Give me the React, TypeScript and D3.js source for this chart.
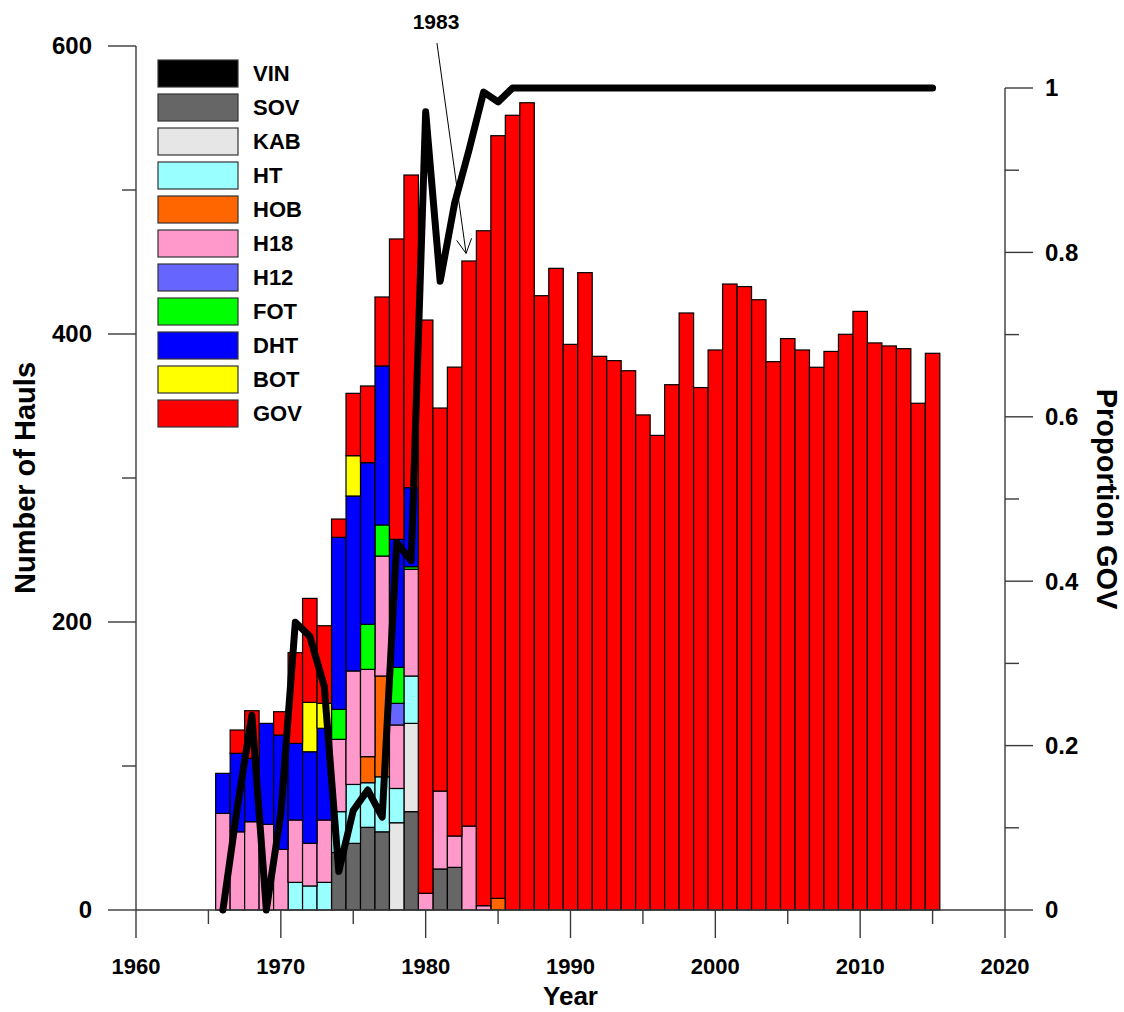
import React from "react";
import * as d3 from "d3";

// Survey years (one stacked bar per year)
const years = [
  1966, 1967, 1968, 1969, 1970, 1971, 1972, 1973, 1974, 1975,
  1976, 1977, 1978, 1979, 1980, 1981, 1982, 1983, 1984, 1985,
  1986, 1987, 1988, 1989, 1990, 1991, 1992, 1993, 1994, 1995,
  1996, 1997, 1998, 1999, 2000, 2001, 2002, 2003, 2004, 2005,
  2006, 2007, 2008, 2009, 2010, 2011, 2012, 2013, 2014, 2015,
];

// Number of hauls per gear type and year
const SOV = [
  0, 0, 0, 0, 0, 0, 0, 0, 40, 46.3,
  57.4, 54.3, 0, 68.3, 0, 28.5, 29.6, 0, 0, 0,
  0, 0, 0, 0, 0, 0, 0, 0, 0, 0,
  0, 0, 0, 0, 0, 0, 0, 0, 0, 0,
  0, 0, 0, 0, 0, 0, 0, 0, 0, 0,
];
const KAB = [
  0, 0, 0, 0, 0, 0, 0, 0, 0, 0,
  0, 0, 60.6, 61.3, 0, 0, 0, 0, 0, 0,
  0, 0, 0, 0, 0, 0, 0, 0, 0, 0,
  0, 0, 0, 0, 0, 0, 0, 0, 0, 0,
  0, 0, 0, 0, 0, 0, 0, 0, 0, 0,
];
const HT = [
  0, 0, 0, 0, 0, 19.2, 16.7, 19.2, 28.3, 40.9,
  31, 38.2, 23.8, 32.9, 0, 0, 0, 0, 0, 0,
  0, 0, 0, 0, 0, 0, 0, 0, 0, 0,
  0, 0, 0, 0, 0, 0, 0, 0, 0, 0,
  0, 0, 0, 0, 0, 0, 0, 0, 0, 0,
];
const HOB = [
  0, 0, 0, 0, 0, 0, 0, 0, 0, 0,
  18.1, 70, 0, 0, 0, 0, 0, 0, 0, 8.1,
  0, 0, 0, 0, 0, 0, 0, 0, 0, 0,
  0, 0, 0, 0, 0, 0, 0, 0, 0, 0,
  0, 0, 0, 0, 0, 0, 0, 0, 0, 0,
];
const H18 = [
  67.1, 54.3, 61.3, 59.5, 42.1, 43.3, 29.6, 43.3, 50.2, 78.8,
  60.6, 83.3, 44.1, 74.1, 11.6, 54.1, 21.8, 58.3, 3, 0,
  0, 0, 0, 0, 0, 0, 0, 0, 0, 0,
  0, 0, 0, 0, 0, 0, 0, 0, 0, 0,
  0, 0, 0, 0, 0, 0, 0, 0, 0, 0,
];
const H12 = [
  0, 0, 0, 0, 0, 0, 0, 0, 0, 0,
  0, 0, 15, 0, 0, 0, 0, 0, 0, 0,
  0, 0, 0, 0, 0, 0, 0, 0, 0, 0,
  0, 0, 0, 0, 0, 0, 0, 0, 0, 0,
  0, 0, 0, 0, 0, 0, 0, 0, 0, 0,
];
const FOT = [
  0, 0, 0, 0, 0, 0, 0, 0, 20.8, 0,
  31.3, 21.6, 25, 1.8, 0, 0, 0, 0, 0, 0,
  0, 0, 0, 0, 0, 0, 0, 0, 0, 0,
  0, 0, 0, 0, 0, 0, 0, 0, 0, 0,
  0, 0, 0, 0, 0, 0, 0, 0, 0, 0,
];
const DHT = [
  27.8, 54.5, 44, 70.1, 79.4, 53.2, 63.6, 63.7, 119.5, 121.5,
  112.2, 110.4, 88.9, 54.9, 0, 0, 0, 0, 0, 0,
  0, 0, 0, 0, 0, 0, 0, 0, 0, 0,
  0, 0, 0, 0, 0, 0, 0, 0, 0, 0,
  0, 0, 0, 0, 0, 0, 0, 0, 0, 0,
];
const BOT = [
  0, 0, 0, 0, 0, 0, 34.3, 17.3, 0, 28,
  0, 0, 0, 0, 0, 0, 0, 0, 0, 0,
  0, 0, 0, 0, 0, 0, 0, 0, 0, 0,
  0, 0, 0, 0, 0, 0, 0, 0, 0, 0,
  0, 0, 0, 0, 0, 0, 0, 0, 0, 0,
];
const GOV = [
  0, 16.2, 33.1, 0, 16.2, 63, 72.2, 53.9, 12.7, 43.3,
  53.3, 47.9, 208.6, 217.1, 398.1, 266, 325.6, 392.4, 468.7, 529.6,
  551.9, 560.6, 426.6, 445.6, 392.8, 442.6, 384.5, 381.5, 374.5, 343.8,
  329.6, 364.8, 414.6, 362.8, 388.9, 434.7, 432.9, 423.8, 380.8, 396.8,
  388.9, 376.9, 387.9, 399.8, 415.7, 393.8, 391.7, 389.8, 351.9, 386.6,
];

// Proportion of hauls made with GOV (right axis)
const propGOV = [
  0, 0.125, 0.237, 0, 0.117, 0.35, 0.333, 0.272, 0.047, 0.121,
  0.146, 0.113, 0.447, 0.425, 0.971, 0.765, 0.86, 0.925, 0.995, 0.983,
  1, 1, 1, 1, 1, 1, 1, 1, 1, 1,
  1, 1, 1, 1, 1, 1, 1, 1, 1, 1,
  1, 1, 1, 1, 1, 1, 1, 1, 1, 1,
];

const gearKeys = ["SOV", "KAB", "HT", "HOB", "H18", "H12", "FOT", "DHT", "BOT", "GOV"];
const gearSeries = [SOV, KAB, HT, HOB, H18, H12, FOT, DHT, BOT, GOV];
const gearColors = ["#666666", "#e6e6e6", "#99ffff", "#ff6600", "#ff99cc", "#6666ff", "#00ff00", "#0000ff", "#ffff00", "#ff0000"];

const legendLabels = ["VIN", "SOV", "KAB", "HT", "HOB", "H18", "H12", "FOT", "DHT", "BOT", "GOV"];
const legendColors = ["#000000", ...gearColors];

const xMajorTicks = [1960, 1970, 1980, 1990, 2000, 2010, 2020];
const xMinorTicks = [1965, 1975, 1985, 1995, 2005, 2015];
const yLeftMajor = [0, 200, 400, 600];
const yLeftMinor = [100, 300, 500];
const yRightMajor = [0, 0.2, 0.4, 0.6, 0.8, 1];
const yRightMinor = [0.1, 0.3, 0.5, 0.7, 0.9];

// Annotation: label plus arrow, in data coordinates (year, hauls)
const noteText = "1983";
const noteFrom = [1980.78, 602];
const noteTo = [1982.79, 456];

const FONT = "'Liberation Sans', Arial, Helvetica, sans-serif";

export default function App() {
  const W = 1124;
  const H = 1012;
  const x = d3.scaleLinear().domain([1960, 2020]).range([136, 1005]);
  const yL = d3.scaleLinear().domain([0, 600]).range([910, 46]);
  const yR = d3.scaleLinear().domain([0, 1]).range([910, 88]);

  const rows = years.map((yr, i) => {
    const r: any = { year: yr };
    gearKeys.forEach((k, j) => (r[k] = gearSeries[j][i]));
    return r;
  });
  const stacked = d3.stack().keys(gearKeys)(rows);

  const line = d3
    .line<number>()
    .x((_, i) => x(years[i]))
    .y((d) => yR(d));

  const axisColor = "#3a3a3a";
  const axisX0 = x(1960);
  const axisX1 = x(2020);
  const base = yL(0);

  // arrow geometry
  const ax0 = x(noteFrom[0]);
  const ay0 = yL(noteFrom[1]);
  const ax1 = x(noteTo[0]);
  const ay1 = yL(noteTo[1]);
  const ang = Math.atan2(ay1 - ay0, ax1 - ax0);
  const headLen = 16;
  const headAng = (28 * Math.PI) / 180;
  const h1 = [ax1 - headLen * Math.cos(ang - headAng), ay1 - headLen * Math.sin(ang - headAng)];
  const h2 = [ax1 - headLen * Math.cos(ang + headAng), ay1 - headLen * Math.sin(ang + headAng)];

  return (
    <div style={{ position: "absolute", left: 0, top: 0 }}>
      <svg width={W} height={H} style={{ display: "block", background: "#fff" }} fontFamily={FONT}>
        {/* stacked bars */}
        <g>
          {stacked.map((s, si) =>
            s.map((d, i) => {
              const v = d[1] - d[0];
              if (!(v > 0)) return null;
              const yr = years[i];
              const x0 = x(yr - 0.5);
              const x1 = x(yr + 0.5);
              return (
                <rect
                  key={`${si}-${i}`}
                  x={x0}
                  y={yL(d[1])}
                  width={x1 - x0}
                  height={yL(d[0]) - yL(d[1])}
                  fill={gearColors[si]}
                  stroke="#000"
                  strokeWidth={1.2}
                />
              );
            })
          )}
        </g>

        {/* bottom axis */}
        <g stroke={axisColor} strokeWidth={1.4}>
          <line x1={axisX0} x2={axisX1} y1={base} y2={base} />
          {xMajorTicks.map((t) => (
            <line key={t} x1={x(t)} x2={x(t)} y1={base} y2={base + 28} />
          ))}
          {xMinorTicks.map((t) => (
            <line key={t} x1={x(t)} x2={x(t)} y1={base} y2={base + 14} />
          ))}
        </g>
        {xMajorTicks.map((t) => (
          <text key={t} x={x(t)} y={966} dy="0.35em" textAnchor="middle" fontSize={22} fontWeight="bold">
            {t}
          </text>
        ))}
        <text x={(axisX0 + axisX1) / 2} y={996} dy="0.35em" textAnchor="middle" fontSize={26} fontWeight="bold">
          Year
        </text>

        {/* left axis */}
        <g stroke={axisColor} strokeWidth={1.4}>
          <line x1={axisX0} x2={axisX0} y1={yL(0)} y2={yL(600)} />
          {yLeftMajor.map((t) => (
            <line key={t} x1={axisX0 - 28} x2={axisX0} y1={yL(t)} y2={yL(t)} />
          ))}
          {yLeftMinor.map((t) => (
            <line key={t} x1={axisX0 - 14} x2={axisX0} y1={yL(t)} y2={yL(t)} />
          ))}
        </g>
        {yLeftMajor.map((t) => (
          <text key={t} x={92} y={yL(t)} dy="0.35em" textAnchor="end" fontSize={24} fontWeight="bold">
            {t}
          </text>
        ))}
        <text
          transform={`translate(25, ${(yL(0) + yL(600)) / 2}) rotate(-90)`}
          dy="0.35em"
          textAnchor="middle"
          fontSize={29}
          fontWeight="bold"
        >
          Number of Hauls
        </text>

        {/* right axis */}
        <g stroke={axisColor} strokeWidth={1.4}>
          <line x1={axisX1} x2={axisX1} y1={yR(0)} y2={yR(1)} />
          {yRightMajor.map((t) => (
            <line key={t} x1={axisX1} x2={axisX1 + 28} y1={yR(t)} y2={yR(t)} />
          ))}
          {yRightMinor.map((t) => (
            <line key={t} x1={axisX1} x2={axisX1 + 14} y1={yR(t)} y2={yR(t)} />
          ))}
        </g>
        {yRightMajor.map((t) => (
          <text key={t} x={axisX1 + 40} y={yR(t)} dy="0.35em" textAnchor="start" fontSize={24} fontWeight="bold">
            {d3.format("~g")(t)}
          </text>
        ))}
        <text
          transform={`translate(1107, ${(yR(0) + yR(1)) / 2}) rotate(90)`}
          dy="0.35em"
          textAnchor="middle"
          fontSize={29}
          fontWeight="bold"
        >
          Proportion GOV
        </text>

        {/* proportion line */}
        <path
          d={line(propGOV) || ""}
          fill="none"
          stroke="#000"
          strokeWidth={7}
          strokeLinejoin="round"
          strokeLinecap="round"
        />

        {/* annotation */}
        <text x={436} y={22} dy="0.35em" textAnchor="middle" fontSize={21} fontWeight="bold">
          {noteText}
        </text>
        <g stroke="#000" strokeWidth={1} fill="none">
          <line x1={ax0} y1={ay0} x2={ax1} y2={ay1} />
          <polyline points={`${h1[0]},${h1[1]} ${ax1},${ay1} ${h2[0]},${h2[1]}`} />
        </g>

        {/* legend */}
        <g>
          {legendLabels.map((lab, i) => (
            <g key={lab} transform={`translate(158, ${60 + i * 34})`}>
              <rect width={80} height={27} fill={legendColors[i]} stroke="#333" strokeWidth={1.2} />
              <text x={95} y={13.5} dy="0.35em" fontSize={22} fontWeight="bold">
                {lab}
              </text>
            </g>
          ))}
        </g>
      </svg>
    </div>
  );
}
